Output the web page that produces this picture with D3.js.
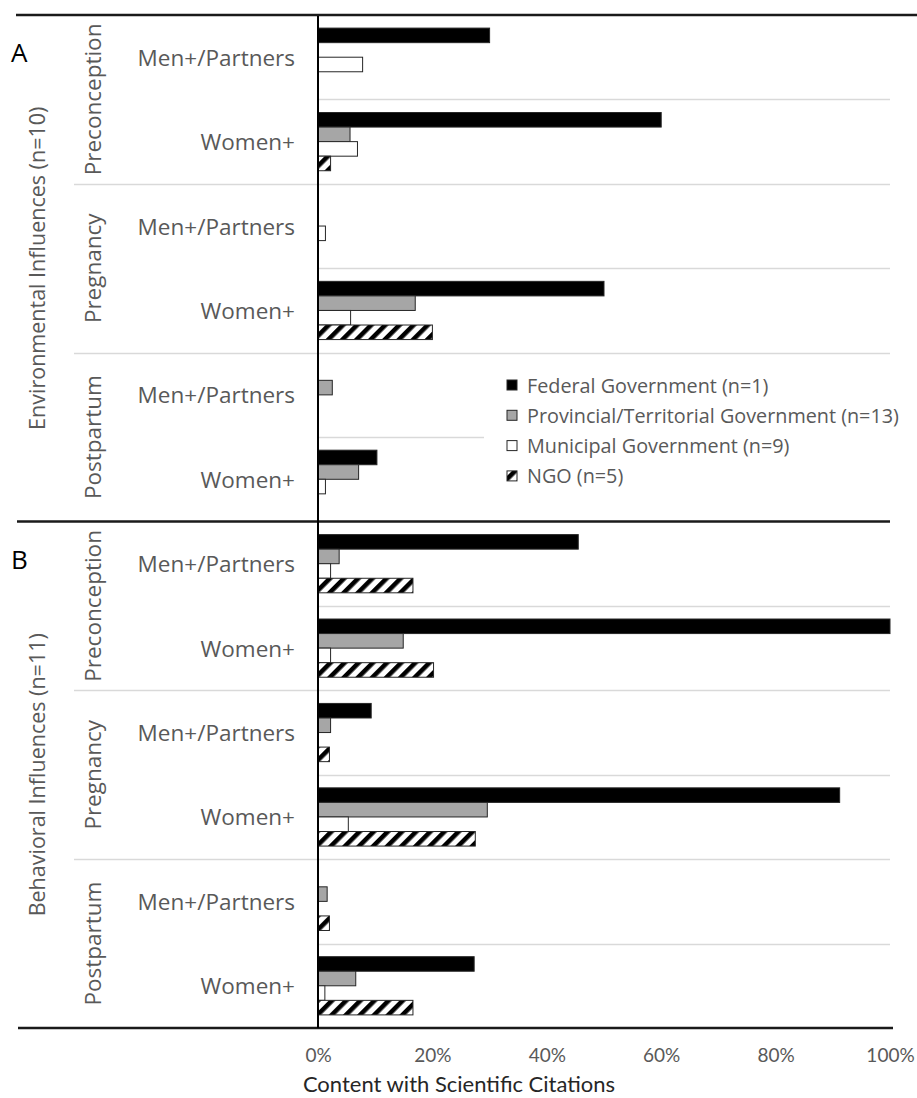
<!DOCTYPE html>
<html>
<head>
<meta charset="utf-8">
<script src="https://cdn.jsdelivr.net/npm/d3@7"></script>
<style>
  html, body { margin: 0; padding: 0; background: #fff; }
  svg { display: block; }
</style>
</head>
<body>
<svg id="chart" width="917" height="1098"></svg>
<script>
// Panels, life stages and audiences
const panels = ["A", "B"];
const panelTitles = ["Environmental Influences (n=10)", "Behavioral Influences (n=11)"];
const phases = ["Preconception", "Pregnancy", "Postpartum"];
const audiences = ["Men+/Partners", "Women+"];
const seriesNames = [
  "Federal Government (n=1)",
  "Provincial/Territorial Government (n=13)",
  "Municipal Government (n=9)",
  "NGO (n=5)"
];
const xTicks = [0, 20, 40, 60, 80, 100];

// Share of content with scientific citations (%), rows ordered
// Preconception Men/Women, Pregnancy Men/Women, Postpartum Men/Women
const envFederal    = [30, 60, 0, 50, 0, 10.3];
const envProvincial = [0, 5.6, 0, 17, 2.5, 7.1];
const envMunicipal  = [7.8, 6.9, 1.3, 5.7, 0, 1.3];
const envNgo        = [0, 2.2, 0, 20, 0, 0];

const behFederal    = [45.5, 100, 9.3, 91.2, 0, 27.3];
const behProvincial = [3.7, 14.9, 2.2, 29.6, 1.6, 6.6];
const behMunicipal  = [2.2, 2.2, 0, 5.3, 0, 1.2];
const behNgo        = [16.6, 20.2, 2, 27.5, 2, 16.6];

const panelSeries = {
  A: [envFederal, envProvincial, envMunicipal, envNgo],
  B: [behFederal, behProvincial, behMunicipal, behNgo]
};

const svg = d3.select("#chart");
const textGray = "#595959";
const labelFont = "'Open Sans', 'Noto Sans', sans-serif";
const tickFont = "Lato, 'Open Sans', sans-serif";

// Fill styles per series
const defs = svg.append("defs");
const hatch = defs.append("pattern")
  .attr("id", "hatch")
  .attr("patternUnits", "userSpaceOnUse")
  .attr("width", 10).attr("height", 10)
  .attr("patternTransform", "rotate(45)");
hatch.append("rect").attr("width", 10).attr("height", 10).attr("fill", "#fff");
hatch.append("rect").attr("width", 4.6).attr("height", 10).attr("fill", "#000");

const fills = ["#000000", "#a6a6a6", "#ffffff", "url(#hatch)"];

// Scales
const x = d3.scaleLinear().domain([0, 100]).range([318, 890]);
const panelY = d3.scaleBand().domain(panels).range([15, 1028]);
const rowKeys = d3.cross(phases, audiences).map(([p, a]) => p + "|" + a);

panels.forEach((panel, pi) => {
  const top = panelY(panel);
  const rowY = d3.scaleBand().domain(rowKeys).range([top, top + panelY.bandwidth()]);
  const barY = d3.scaleBand().domain(d3.range(seriesNames.length))
    .range([0, rowY.bandwidth()]).paddingInner(0).paddingOuter(0.9);

  const g = svg.append("g");

  // Row separators: full-height between life stages, plot-only between audiences
  rowKeys.forEach((key, ri) => {
    if (ri === 0) return;
    const y = Math.round(rowY(key)) + 0.5;
    const stageBreak = ri % 2 === 0;
    g.append("line")
      .attr("x1", stageBreak ? 74 : x(0)).attr("x2", x(100))
      .attr("y1", y).attr("y2", y)
      .attr("stroke", "#d9d9d9").attr("stroke-width", 1.5);
  });

  // Bars
  const values = panelSeries[panel];
  const barData = [];
  rowKeys.forEach((key, ri) => {
    values.forEach((arr, si) => {
      if (arr[ri] > 0) barData.push({ key, si, v: arr[ri] });
    });
  });
  g.selectAll("rect.bar").data(barData).join("rect")
    .attr("class", "bar")
    .attr("x", x(0))
    .attr("y", d => rowY(d.key) + barY(d.si))
    .attr("width", d => x(d.v) - x(0))
    .attr("height", barY.bandwidth())
    .attr("fill", d => fills[d.si])
    .attr("stroke", "#262626").attr("stroke-width", 1);

  // Audience labels
  g.selectAll("text.aud").data(rowKeys).join("text")
    .attr("class", "aud")
    .attr("x", 295)
    .attr("y", d => rowY(d) + rowY.bandwidth() / 2)
    .attr("text-anchor", "end").attr("dominant-baseline", "central")
    .attr("font-family", labelFont).attr("font-size", 22.5)
    .attr("fill", textGray)
    .text(d => d.split("|")[1]);

  // Life stage labels (rotated)
  phases.forEach(ph => {
    const yMid = rowY(ph + "|" + audiences[1]);
    g.append("text")
      .attr("transform", `translate(92,${yMid}) rotate(-90)`)
      .attr("text-anchor", "middle").attr("dominant-baseline", "central")
      .attr("font-family", labelFont).attr("font-size", 22.5)
      .attr("fill", textGray)
      .text(ph);
  });

  // Panel title (rotated) and panel letter
  g.append("text")
    .attr("transform", `translate(36,${top + panelY.bandwidth() / 2}) rotate(-90)`)
    .attr("text-anchor", "middle").attr("dominant-baseline", "central")
    .attr("font-family", labelFont).attr("font-size", 21.5)
    .attr("fill", textGray)
    .text(panelTitles[pi]);

  g.append("text")
    .attr("x", 11).attr("y", top + 47)
    .attr("font-family", labelFont).attr("font-size", 26)
    .attr("fill", "#000")
    .text(panel);
});

// Heavy frame lines
svg.append("line").attr("x1", 16).attr("x2", 917).attr("y1", 15).attr("y2", 15)
  .attr("stroke", "#1a1a1a").attr("stroke-width", 2.5);
svg.append("line").attr("x1", 17).attr("x2", 890).attr("y1", panelY("B")).attr("y2", panelY("B"))
  .attr("stroke", "#1a1a1a").attr("stroke-width", 2.5);
svg.append("line").attr("x1", 18).attr("x2", 893).attr("y1", 1028).attr("y2", 1028)
  .attr("stroke", "#1a1a1a").attr("stroke-width", 2.5);

// Zero axis line
svg.append("line").attr("x1", x(0)).attr("x2", x(0)).attr("y1", 16).attr("y2", 1028)
  .attr("stroke", "#000").attr("stroke-width", 2);

// Legend
const legend = svg.append("g");
legend.append("rect").attr("x", 484).attr("y", 366).attr("width", 422).attr("height", 128)
  .attr("fill", "#fff");
const legendRows = legend.selectAll("g.item").data(seriesNames).join("g")
  .attr("class", "item")
  .attr("transform", (d, i) => `translate(507,${385 + i * 30.3})`);
legendRows.append("rect")
  .attr("x", 0).attr("y", -5).attr("width", 10).attr("height", 10)
  .attr("fill", (d, i) => fills[i])
  .attr("stroke", "#262626").attr("stroke-width", 1);
legendRows.append("text")
  .attr("x", 20).attr("y", 0)
  .attr("dominant-baseline", "central")
  .attr("font-family", labelFont).attr("font-size", 19.8)
  .attr("fill", textGray)
  .text(d => d);

// X axis
const xAxis = d3.axisBottom(x).tickValues(xTicks).tickSize(0).tickPadding(0)
  .tickFormat(d => d + "%");
const ax = svg.append("g").attr("transform", "translate(0,1048)").call(xAxis);
ax.select(".domain").remove();
ax.selectAll("text")
  .attr("font-family", tickFont).attr("font-size", 19)
  .attr("fill", textGray);

svg.append("text")
  .attr("x", 459).attr("y", 1092)
  .attr("text-anchor", "middle")
  .attr("font-family", tickFont).attr("font-size", 22)
  .attr("fill", "#262626")
  .text("Content with Scientific Citations");
</script>
</body>
</html>
